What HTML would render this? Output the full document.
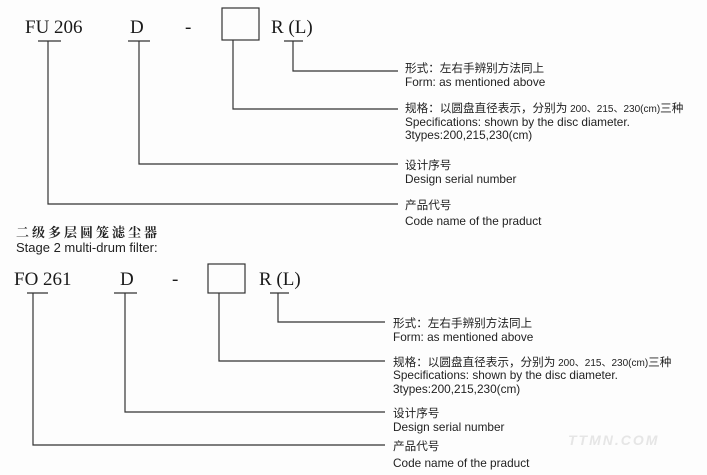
<!DOCTYPE html>
<html><head><meta charset="utf-8"><style>
html,body{margin:0;padding:0;background:#fff;}
#c{position:relative;width:707px;height:475px;overflow:hidden;background:#fdfdfd;}
.s{position:absolute;font-family:"Liberation Serif",serif;font-size:19px;color:#1a1a1a;line-height:19px;white-space:nowrap;}
.l{position:absolute;font-family:"Liberation Sans","Noto Sans CJK SC",sans-serif;font-size:11.8px;color:#222;line-height:13px;white-space:nowrap;}
.c{position:absolute;font-family:"Liberation Sans","Noto Sans CJK SC",sans-serif;font-size:11.6px;color:#222;line-height:13px;white-space:nowrap;}
.c span{font-size:10px;}
.t{position:absolute;font-family:"Liberation Sans","Noto Serif CJK SC",sans-serif;font-size:13px;color:#222;line-height:15px;white-space:nowrap;}
</style></head><body><div id="c">
<svg width="707" height="475" style="position:absolute;left:0;top:0" fill="none" stroke="#333" stroke-width="1.2">
<line x1="38" y1="41" x2="61" y2="41"/><polyline points="48,41 48,204 398,204"/>
<line x1="128" y1="41" x2="150" y2="41"/><polyline points="139,41 139,164 398,164"/>
<rect x="222" y="8" width="37" height="32"/><polyline points="233,40 233,109 398,109"/>
<line x1="284" y1="41" x2="303" y2="41"/><polyline points="293,41 293,71 398,71"/>
<line x1="27" y1="293" x2="48" y2="293"/><polyline points="33,293 33,445 385,445"/>
<line x1="114" y1="293" x2="137" y2="293"/><polyline points="125,293 125,412 385,412"/>
<rect x="208" y="264" width="37" height="29"/><polyline points="219,293 219,361 385,361"/>
<line x1="270" y1="293" x2="289" y2="293"/><polyline points="278,293 278,322 385,322"/>
</svg>
<div class="s" style="left:25px;top:18px">FU 206</div>
<div class="s" style="left:130px;top:18px">D</div>
<div class="s" style="left:185px;top:18px">-</div>
<div class="s" style="left:271px;top:18px">R (L)</div>

<div class="c" style="left:405px;top:62px">形式：左右手辨别方法同上</div>
<div class="l" style="left:405px;top:76px">Form: as mentioned above</div>
<div class="c" style="left:405px;top:102px">规格：以圆盘直径表示，分别为<span> 200、215、230(cm)</span>三种</div>
<div class="l" style="left:405px;top:116px">Specifications: shown by the disc diameter.</div>
<div class="l" style="left:405px;top:129px">3types:200,215,230(cm)</div>
<div class="c" style="left:405px;top:159px">设计序号</div>
<div class="l" style="left:405px;top:173px">Design serial number</div>
<div class="c" style="left:405px;top:199px">产品代号</div>
<div class="l" style="left:405px;top:215px">Code name of the praduct</div>

<div class="t" style="left:16px;top:224px;letter-spacing:3px;font-family:'Noto Serif CJK SC',serif;font-weight:bold">二级多层圆笼滤尘器</div>
<div class="t" style="left:16px;top:240px">Stage 2 multi-drum filter:</div>

<div class="s" style="left:14px;top:270px">FO 261</div>
<div class="s" style="left:120px;top:270px">D</div>
<div class="s" style="left:172px;top:270px">-</div>
<div class="s" style="left:259px;top:270px">R (L)</div>

<div class="c" style="left:393px;top:317px">形式：左右手辨别方法同上</div>
<div class="l" style="left:393px;top:331px">Form: as mentioned above</div>
<div class="c" style="left:393px;top:356px">规格：以圆盘直径表示，分别为<span> 200、215、230(cm)</span>三种</div>
<div class="l" style="left:393px;top:369px">Specifications: shown by the disc diameter.</div>
<div class="l" style="left:393px;top:383px">3types:200,215,230(cm)</div>
<div class="c" style="left:393px;top:407px">设计序号</div>
<div class="l" style="left:393px;top:421px">Design serial number</div>
<div class="c" style="left:393px;top:440px">产品代号</div>
<div class="l" style="left:393px;top:457px">Code name of the praduct</div>

<div style="position:absolute;left:568px;top:432px;font-family:'Liberation Sans',sans-serif;font-style:italic;font-weight:bold;font-size:14px;color:#e6e6e6;letter-spacing:2px">TTMN.COM</div>
</div></body></html>
